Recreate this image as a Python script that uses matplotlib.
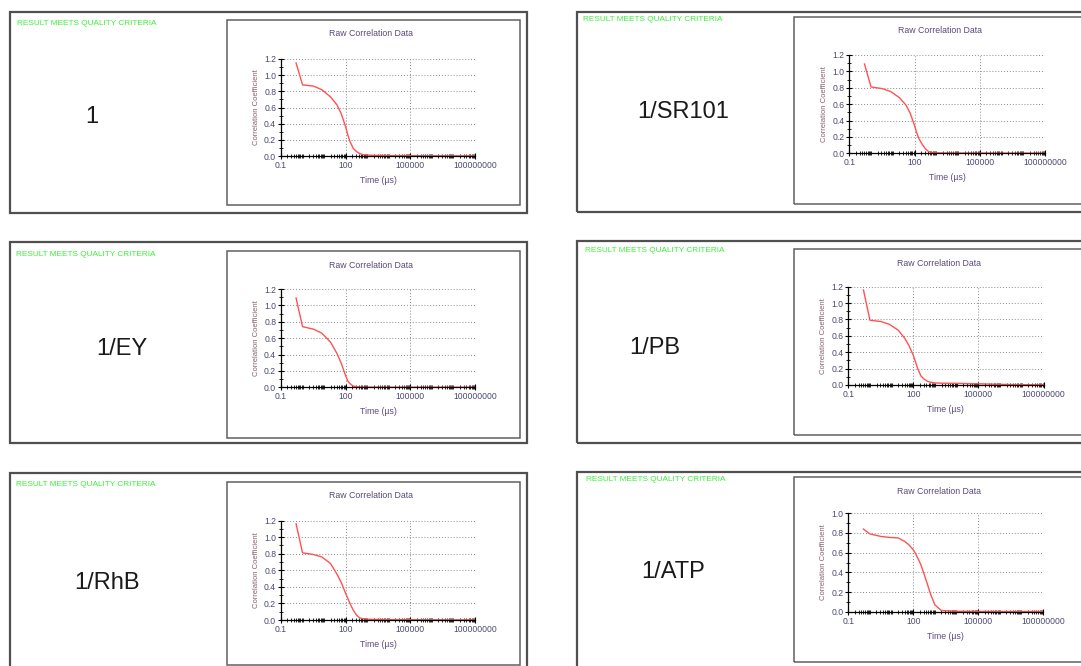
import matplotlib
matplotlib.use('Agg')
import matplotlib.pyplot as plt
from matplotlib.patches import Rectangle
from matplotlib.ticker import FixedLocator, FixedFormatter, LogLocator, MultipleLocator, NullFormatter, FormatStrFormatter

plt.rcParams['font.family'] = ['Liberation Sans', 'DejaVu Sans']

W, H = 1081, 666

# data
samples = ["1", "1/SR101", "1/EY", "1/PB", "1/RhB", "1/ATP"]
time_us = [0.5, 1, 3.2, 7.9, 20, 40, 63, 100, 126, 158, 224, 316, 447, 631,
           1000, 2000, 1e4, 1e5, 1e6, 1e7, 1e8]
corr_1 = [1.15, 0.88, 0.865, 0.82, 0.73, 0.63, 0.52, 0.36, 0.26, 0.18, 0.095, 0.055, 0.03, 0.018,
          0.012, 0.008, 0.005, 0.004, 0.003, 0.002, 0.002]
corr_sr101 = [1.09, 0.81, 0.79, 0.755, 0.68, 0.59, 0.49, 0.34, 0.25, 0.18, 0.11, 0.055, 0.02, 0.01,
              0.006, 0.004, 0.003, 0.003, 0.002, 0.002, 0.002]
corr_ey = [1.09, 0.74, 0.71, 0.66, 0.55, 0.41, 0.29, 0.14, 0.075, 0.045, 0.015, 0.007, 0.004, 0.003,
           0.002, 0.001, 0.001, 0.001, 0.001, 0.001, 0.001]
corr_pb = [1.16, 0.79, 0.775, 0.74, 0.67, 0.57, 0.48, 0.36, 0.28, 0.2, 0.11, 0.07, 0.045, 0.033,
           0.025, 0.022, 0.02, 0.015, 0.008, 0.003, 0.002]
corr_rhb = [1.16, 0.81, 0.79, 0.76, 0.68, 0.55, 0.45, 0.32, 0.26, 0.2, 0.12, 0.06, 0.025, 0.015,
            0.01, 0.007, 0.005, 0.004, 0.003, 0.002, 0.002]
corr_atp = [0.84, 0.79, 0.765, 0.755, 0.75, 0.715, 0.68, 0.63, 0.595, 0.55, 0.48, 0.385, 0.285, 0.18,
            0.07, 0.012, 0.004, 0.003, 0.002, 0.002, 0.002]
curves = [corr_1, corr_sr101, corr_ey, corr_pb, corr_rhb, corr_atp]
y_max = [1.2, 1.2, 1.2, 1.2, 1.2, 1.0]
x_ticks = [0.1, 100, 100000, 100000000]
x_tick_labels = ["0.1", "100", "100000", "100000000"]

# layout in pixels (x0, y0, x1, y1), y measured from the top
outer_px = [(9.5, 12, 527, 213.3), (577, 11.7, 1093, 211.7),
            (9.5, 241.7, 527, 443), (576.7, 241, 1093, 443.3),
            (9.5, 473, 527, 690), (576.7, 472.3, 1093, 690)]
inner_px = [(227, 20, 520, 205), (794, 16.7, 1087, 204),
            (226.7, 251, 520, 437.7), (794, 249, 1087, 435),
            (226.7, 481.7, 520, 665), (794.3, 477.3, 1087, 661.7)]
axes_px = [(281, 59, 475, 156), (849.3, 55, 1045, 153.3),
           (281, 289, 475, 387.3), (848.3, 286.7, 1043.5, 385),
           (281, 520.5, 475, 620), (848.3, 513.3, 1043, 611.7)]
label_px = [(92, 117), (683, 111.7), (122, 349), (655, 348.3), (106.7, 582.6), (673, 571.7)]
green_px = [(17, 23.3), (583, 19.3), (15.5, 254.4), (585, 251), (15.5, 484.4), (586, 479.3)]


def rect(x0, y0, x1, y1):
    return [x0 / W, 1 - y1 / H, (x1 - x0) / W, (y1 - y0) / H]


fig = plt.figure(figsize=(W / 100, H / 100), dpi=100, facecolor='white')

for i, name in enumerate(samples):
    l, b, w, h = rect(*outer_px[i])
    fig.add_artist(Rectangle((l, b), w, h, transform=fig.transFigure, fill=False,
                             ec='#505050', lw=1.6))
    l, b, w, h = rect(*inner_px[i])
    fig.add_artist(Rectangle((l, b), w, h, transform=fig.transFigure, fill=False,
                             ec='#606060', lw=1.1))

    gx, gy = green_px[i]
    fig.text(gx / W, 1 - gy / H, "RESULT MEETS QUALITY CRITERIA", fontsize=5.95,
             color='#3cf03c', ha='left', va='center')
    lx, ly = label_px[i]
    fig.text(lx / W, 1 - ly / H, name, fontsize=17, color='#1a1a1a', ha='center', va='center')

    ax = fig.add_axes(rect(*axes_px[i]))
    ax.plot(time_us, curves[i], color='#ff5252', lw=1.0)
    ax.set_xscale('log')
    ax.set_xlim(0.1, 1e8)
    ax.set_ylim(0, y_max[i])

    ax.xaxis.set_major_locator(FixedLocator(x_ticks))
    ax.xaxis.set_major_formatter(FixedFormatter(x_tick_labels))
    ax.xaxis.set_minor_locator(LogLocator(base=10, subs=range(1, 10), numticks=60))
    ax.xaxis.set_minor_formatter(NullFormatter())
    ax.yaxis.set_major_locator(MultipleLocator(0.2))
    ax.yaxis.set_minor_locator(MultipleLocator(0.1))
    ax.yaxis.set_major_formatter(FormatStrFormatter('%.1f'))

    ax.tick_params(which='major', direction='inout', length=4, width=0.8, color='black',
                   labelsize=6.2, labelcolor='#4a4a72', pad=1.5)
    ax.tick_params(which='minor', direction='inout', length=2.2, width=0.6, color='black')

    for s in ['top', 'right']:
        ax.spines[s].set_visible(False)
    for s in ['left', 'bottom']:
        ax.spines[s].set_color('black')
        ax.spines[s].set_linewidth(0.9)

    ax.set_axisbelow(True)
    ax.grid(True, which='major', linestyle=(0, (1, 2)), color='#8a8a8a', lw=0.7)
    ax.patch.set_alpha(0)

    ax.set_xlabel("Time (µs)", fontsize=6.3, color='#604a80', labelpad=4.5)
    ax.set_ylabel("Correlation Coefficient", fontsize=5.5, color='#8a6070', labelpad=3)

    x0, y0, x1, y1 = axes_px[i]
    fig.text(((x0 + x1) / 2 - 7) / W, 1 - (inner_px[i][1] + 14) / H, "Raw Correlation Data",
             fontsize=6.3, color='#5a4a7a', ha='center', va='center')

fig.savefig('out.png', dpi=100)
